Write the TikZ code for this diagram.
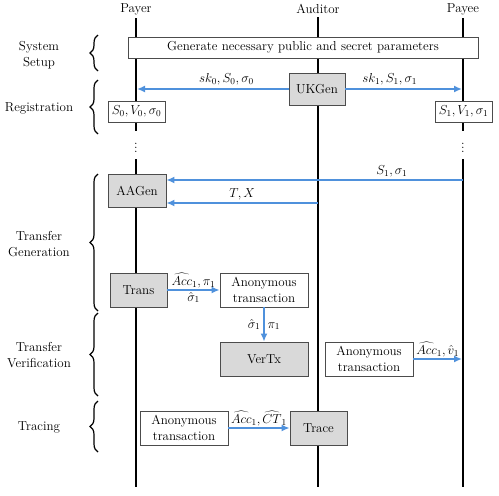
\RequirePackage{fix-cm}
\documentclass[tikz,border=0pt]{standalone}
\usetikzlibrary{arrows.meta,decorations.pathreplacing}
\definecolor{msgblue}{RGB}{79,145,220}
\definecolor{boxgray}{RGB}{217,217,217}
\begin{document}
\begin{tikzpicture}[x=1pt, y=-1pt, font=\fontsize{13}{15.5}\selectfont,
  lifeline/.style={line width=2pt},
  msg/.style={draw=msgblue, line width=2pt, -{Latex[length=8pt,width=7pt]}},
  proc/.style={draw=black!70, line width=0.8pt, fill=boxgray, inner sep=2pt},
  data/.style={draw=black!70, line width=0.8pt, fill=white, inner sep=2pt, align=center},
  phase/.style={align=center},
  phasebrace/.style={decorate, decoration={brace, amplitude=8pt}, line width=1.2pt},
  lbl/.style={inner sep=3pt}]
\useasboundingbox (0,0) rectangle (499,496);
% parties and lifelines
\node (payer) at (136,9) {Payer};
\node (auditor) at (318,9) {Auditor};
\node (payee) at (463,9) {Payee};
\node[inner sep=0pt, minimum height=28pt] (payerdots) at (136,145) {$\vdots$};
\node[inner sep=0pt, minimum height=28pt] (payeedots) at (463,145) {$\vdots$};
\coordinate (payerend) at (136,487);
\coordinate (auditorend) at (318,487);
\coordinate (payeeend) at (463,487);
\draw[lifeline] (payer.south) -- (payerdots.north) (payerdots.south) -- (payerend);
\draw[lifeline] (auditor.south) -- (auditorend);
\draw[lifeline] (payee.south) -- (payeedots.north) (payeedots.south) -- (payeeend);
% phases
\node[phase] (setuplbl) at (39,55) {System\\Setup};
\node[phase] (reglbl) at (39,108) {Registration};
\node[phase] (genlbl) at (39,244) {Transfer\\Generation};
\node[phase] (verlbl) at (39,355) {Transfer\\Verification};
\node[phase] (tracelbl) at (39,427) {Tracing};
\draw[phasebrace] (98,71) -- (98,35);
\draw[phasebrace] (98,134) -- (98,80);
\draw[phasebrace] (98,311) -- (98,174);
\draw[phasebrace] (98,396) -- (98,313);
\draw[phasebrace] (98,452) -- (98,401);
% system setup
\node[data, minimum width=350pt, minimum height=21pt] (setup) at (303,47.5) {Generate necessary public and secret parameters};
% registration
\node[proc, minimum width=56pt, minimum height=32pt] (ukgen) at (317,89) {UKGen};
\coordinate (regl) at (137,89);
\coordinate (regr) at (462,89);
\draw[msg] (ukgen.west) -- node[above, pos=0.41, lbl] {$sk_0,S_0,\sigma_0$} (regl);
\draw[msg] (ukgen.east) -- node[above, pos=0.38, lbl] {$sk_1,S_1,\sigma_1$} (regr);
\node[data, minimum width=57pt, minimum height=21pt] (keys0) at (136.5,111.5) {$S_0,V_0,\sigma_0$};
\node[data, minimum width=57pt, minimum height=21pt] (keys1) at (463.5,111.5) {$S_1,V_1,\sigma_1$};
% transfer generation
\node[proc, minimum width=58pt, minimum height=33pt] (aagen) at (137,190.5) {AAGen};
\coordinate (pkstart) at (463,180);
\coordinate (txstart) at (318,203);
\draw[msg] (pkstart) -- node[above, pos=0.24, lbl, inner sep=2pt] {$S_1,\sigma_1$} (pkstart -| aagen.east);
\draw[msg] (txstart) -- node[above, lbl, inner sep=2pt] {$T,X$} (txstart -| aagen.east);
\node[proc, minimum width=57pt, minimum height=34pt] (trans) at (138.5,290) {Trans};
\node[data, minimum width=88pt, minimum height=34pt] (anontx) at (264,290) {Anonymous\\transaction};
\draw[msg] (trans.east) -- node[above, lbl, inner sep=1pt] {$\widehat{Acc}_1,\pi_1$} node[below, lbl, inner sep=1pt] {$\hat{\sigma}_1$} (anontx.west);
% transfer verification
\node[proc, minimum width=88pt, minimum height=34pt] (vertx) at (264,359) {VerTx};
\draw[msg] (anontx.south) -- node[lbl] {$\hat{\sigma}_1\;\;\pi_1$} (vertx.north);
\node[data, minimum width=88pt, minimum height=34pt] (anontxb) at (369,359) {Anonymous\\transaction};
\coordinate (verr) at (462,359);
\draw[msg] (anontxb.east) -- node[above, lbl, inner sep=1pt] {$\widehat{Acc}_1,\hat{v}_1$} (verr);
% tracing
\node[data, minimum width=88pt, minimum height=34pt] (anontxc) at (184,428) {Anonymous\\transaction};
\node[proc, minimum width=57pt, minimum height=34pt] (trace) at (318.5,428) {Trace};
\draw[msg] (anontxc.east) -- node[above, lbl, inner sep=1pt] {$\widehat{Acc}_1,\widehat{CT}_1$} (trace.west);
\end{tikzpicture}
\end{document}
